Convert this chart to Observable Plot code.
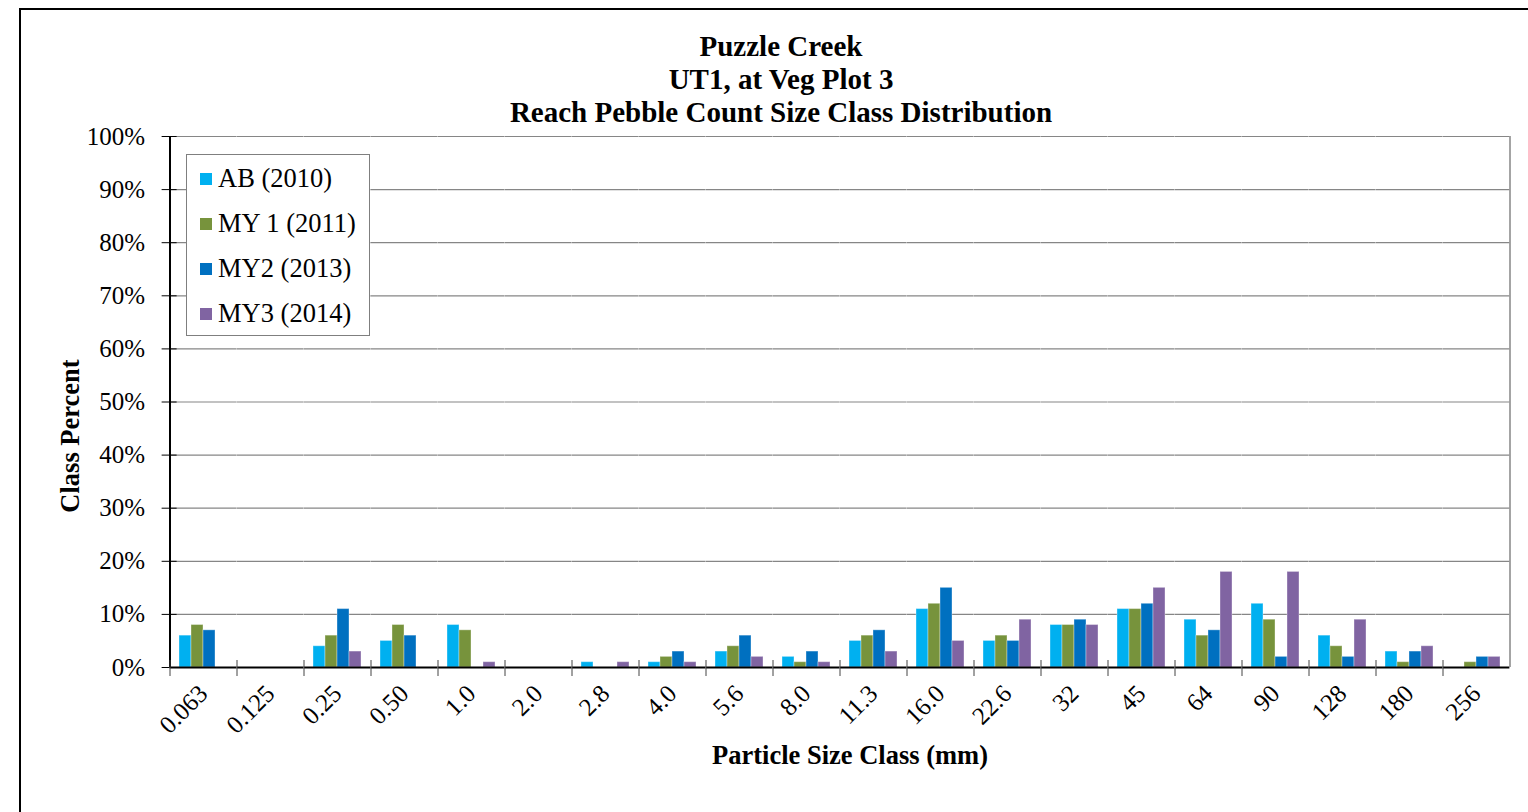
<!DOCTYPE html>
<html>
<head>
<meta charset="utf-8">
<script src="https://cdn.jsdelivr.net/npm/d3@7"></script>
<script src="https://cdn.jsdelivr.net/npm/@observablehq/plot@0.6"></script>
<style>
  html, body { margin: 0; padding: 0; background: #fff; }
  body { font-family: "Liberation Serif", "Times New Roman", serif; }
  #wrap { position: relative; width: 1528px; height: 812px; overflow: hidden; }
  #chart { position: absolute; left: 0; top: 0; }
  #border { position: absolute; left: 19px; top: 8px; width: 1600px; height: 900px; border: 2px solid #000; box-sizing: border-box; pointer-events: none; }
  #title { position: absolute; left: 0; top: 30px; width: 1562px; text-align: center; font-weight: bold; font-size: 29px; line-height: 33px; color: #000; }
  #ylabel { position: absolute; left: 70px; top: 436px; transform: translate(-50%, -50%) rotate(-90deg); font-weight: bold; font-size: 26.5px; white-space: nowrap; color: #000; }
  #xlabel { position: absolute; left: 850px; top: 755px; transform: translate(-50%, -50%); font-weight: bold; font-size: 26.5px; white-space: nowrap; color: #000; }
  #legend { position: absolute; left: 186px; top: 154px; width: 184px; height: 182px; border: 1px solid #7f7f7f; background: #fff; box-sizing: border-box; padding-top: 1px; }
  .item { display: flex; align-items: center; height: 45px; font-size: 26.5px; color: #000; padding-left: 13px; }
  .sw { width: 12px; height: 12px; margin-right: 6px; }
</style>
</head>
<body>
<div id="wrap">
  <div id="chart"></div>
  <div id="border"></div>
  <div id="title">Puzzle Creek<br>UT1, at Veg Plot 3<br>Reach Pebble Count Size Class Distribution</div>
  <div id="ylabel">Class Percent</div>
  <div id="xlabel">Particle Size Class (mm)</div>
  <div id="legend"></div>
</div>
<script>
// ---- data ----
const categories = ["0.063","0.125","0.25","0.50","1.0","2.0","2.8","4.0","5.6","8.0","11.3","16.0","22.6","32","45","64","90","128","180","256"];
const seriesNames = ["AB (2010)", "MY 1 (2011)", "MY2 (2013)", "MY3 (2014)"];
const ab2010  = [6, 0, 4, 5, 8, 0, 1, 1, 3, 2, 5, 11, 5, 8, 11, 9, 12, 6, 3, 0];
const my1_2011 = [8, 0, 6, 8, 7, 0, 0, 2, 4, 1, 6, 12, 6, 8, 11, 6, 9, 4, 1, 1];
const my2_2013 = [7, 0, 11, 6, 0, 0, 0, 3, 6, 3, 7, 15, 5, 9, 12, 7, 2, 2, 3, 2];
const my3_2014 = [0, 0, 3, 0, 1, 0, 1, 1, 2, 1, 3, 5, 9, 8, 15, 18, 18, 9, 4, 2];
const yTicks = [0, 0.1, 0.2, 0.3, 0.4, 0.5, 0.6, 0.7, 0.8, 0.9, 1.0];
const colors = ["#00B0F0", "#77933C", "#0070C0", "#8064A2"];

const seriesValues = [ab2010, my1_2011, my2_2013, my3_2014];
const rows = [];
seriesNames.forEach((s, i) => categories.forEach((c, j) => rows.push({cat: c, series: s, value: seriesValues[i][j] / 100})));

// layout
const W = 1528, H = 812, mL = 170, mR = 18, mT = 136, mB = 145;
const padInner = 0.28, padOuter = 0.14;
const step = (W - mL - mR) / (categories.length - padInner + 2 * padOuter);
const outerPx = step * padOuter;
const halfStep = step / 2;

const chart = Plot.plot({
  width: W, height: H,
  marginLeft: mL, marginRight: mR, marginTop: mT, marginBottom: mB,
  style: {fontFamily: "'Liberation Serif', 'Times New Roman', serif", fontSize: "25px", color: "#000", background: "transparent", overflow: "visible"},
  fx: {domain: categories, paddingInner: padInner, paddingOuter: padOuter, axis: null, label: null},
  x: {domain: seriesNames, padding: 0, axis: null},
  y: {domain: [0, 1], axis: null},
  color: {domain: seriesNames, range: colors},
  marks: [
    Plot.ruleY(yTicks.filter(d => d > 0), {stroke: "#868686", strokeWidth: 1.2, insetLeft: -outerPx, insetRight: -outerPx}),
    Plot.barY(rows, {fx: "cat", x: "series", y: "value", fill: "series", stroke: "#ffffff", strokeOpacity: 0.35, strokeWidth: 1}),
    Plot.ruleY([0], {stroke: "#000", strokeWidth: 2, insetLeft: -outerPx, insetRight: -outerPx}),
    Plot.ruleX([categories[categories.length - 1]], {fx: d => d, x: null, dx: halfStep, stroke: "#868686", strokeWidth: 1.5}),
    Plot.ruleX([categories[0]], {fx: d => d, x: null, dx: -halfStep, stroke: "#000", strokeWidth: 2}),
    Plot.axisY({ticks: yTicks, tickFormat: d3.format(".0%"), tickSize: 8, tickPadding: 17, dx: -outerPx, label: null, stroke: "#000", fontSize: 25, facetAnchor: "left"}),
    Plot.axisY({ticks: yTicks, tickFormat: () => "", tickSize: -7, dx: -outerPx, label: null, stroke: "#000", facetAnchor: "left"}),
    Plot.axisFx({anchor: "bottom", tickSize: 16, dy: -7, dx: -halfStep, tickFormat: () => "", label: null, stroke: "#444"}),
    Plot.axisFx({anchor: "bottom", tickSize: 0, tickRotate: -45, tickPadding: 22, label: null, fontSize: 25})
  ]
});
document.getElementById("chart").appendChild(chart);

// legend
const legend = document.getElementById("legend");
seriesNames.forEach((s, i) => {
  const it = document.createElement("div");
  it.className = "item";
  const sw = document.createElement("span");
  sw.className = "sw";
  sw.style.background = colors[i];
  const tx = document.createElement("span");
  tx.textContent = s;
  it.appendChild(sw); it.appendChild(tx);
  legend.appendChild(it);
});
</script>
</body>
</html>
